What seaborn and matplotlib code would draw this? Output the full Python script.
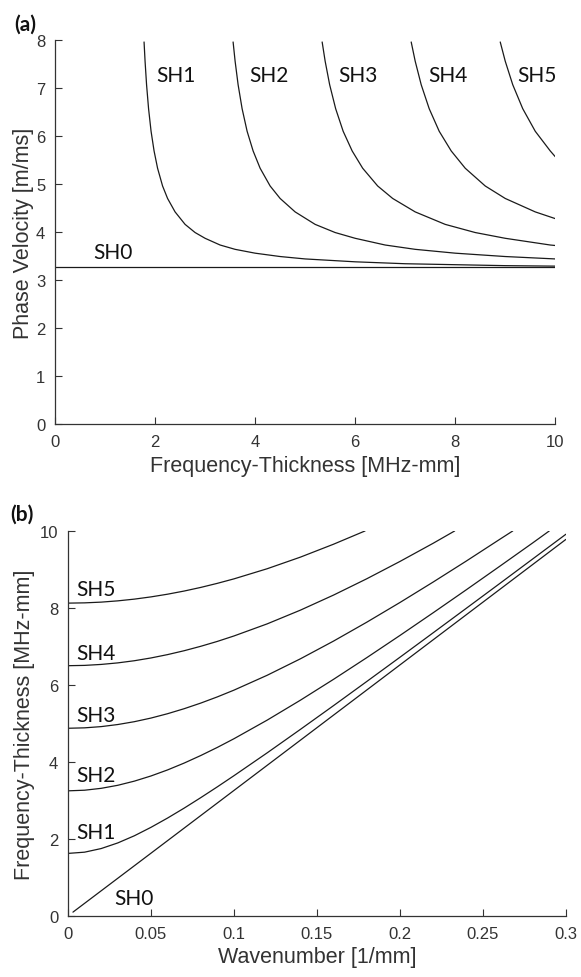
import pandas as pd
import seaborn as sns
import matplotlib.pyplot as plt

# ---- panel (a): phase velocity [m/ms] vs frequency-thickness [MHz-mm]
sh0_fd = [0.0, 2.0, 4.0, 6.0, 8.0, 10.0]
sh0_c = [3.27, 3.27, 3.27, 3.27, 3.27, 3.27]

sh1_fd = [1.78, 1.80, 1.83, 1.87, 1.92, 1.98, 2.05, 2.15, 2.25, 2.4, 2.6, 2.8,
          3.0, 3.3, 3.6, 4.0, 4.5, 5.0, 6.0, 7.0, 8.0, 9.0, 10.0]
sh1_c = [7.96, 7.56, 7.07, 6.57, 6.10, 5.69, 5.33, 4.96, 4.70, 4.42, 4.16, 3.99,
         3.87, 3.73, 3.64, 3.56, 3.49, 3.44, 3.38, 3.34, 3.32, 3.30, 3.29]

sh2_fd = [3.56, 3.60, 3.66, 3.74, 3.84, 3.96, 4.10, 4.30, 4.50, 4.80, 5.20, 5.60,
          6.00, 6.60, 7.20, 8.00, 9.00, 10.0]
sh2_c = [7.96, 7.56, 7.07, 6.57, 6.10, 5.69, 5.33, 4.96, 4.70, 4.42, 4.16, 3.99,
         3.87, 3.73, 3.64, 3.56, 3.49, 3.44]

sh3_fd = [5.34, 5.40, 5.49, 5.61, 5.76, 5.94, 6.15, 6.45, 6.75, 7.20, 7.80, 8.40,
          9.00, 9.90, 10.0]
sh3_c = [7.96, 7.56, 7.07, 6.57, 6.10, 5.69, 5.33, 4.96, 4.70, 4.42, 4.16, 3.99,
         3.87, 3.73, 3.72]

sh4_fd = [7.12, 7.20, 7.32, 7.48, 7.68, 7.92, 8.20, 8.60, 9.00, 9.60, 10.0]
sh4_c = [7.96, 7.56, 7.07, 6.57, 6.10, 5.69, 5.33, 4.96, 4.70, 4.42, 4.28]

sh5_fd = [8.90, 9.00, 9.15, 9.35, 9.60, 9.90, 10.0]
sh5_c = [7.96, 7.56, 7.07, 6.57, 6.10, 5.69, 5.57]

# ---- panel (b): frequency-thickness [MHz-mm] vs wavenumber [1/mm]
sh0_k = [0.003, 0.05, 0.1, 0.15, 0.2, 0.25, 0.3]
sh0_f = [0.10, 1.63, 3.26, 4.89, 6.52, 8.15, 9.78]

sh1_k = [0.0, 0.01, 0.02, 0.03, 0.04, 0.05, 0.06, 0.07, 0.08, 0.09, 0.10,
         0.12, 0.14, 0.16, 0.18, 0.20, 0.22, 0.24, 0.26, 0.28, 0.30]
sh1_f = [1.625, 1.657, 1.751, 1.897, 2.083, 2.302, 2.543, 2.801, 3.073, 3.354, 3.643,
         4.236, 4.845, 5.463, 6.089, 6.719, 7.354, 7.991, 8.630, 9.272, 9.914]

sh2_k = [0.0, 0.01, 0.02, 0.03, 0.04, 0.05, 0.06, 0.07, 0.08, 0.09, 0.10,
         0.12, 0.14, 0.16, 0.18, 0.20, 0.22, 0.24, 0.26, 0.28, 0.29]
sh2_f = [3.250, 3.266, 3.315, 3.394, 3.502, 3.636, 3.793, 3.971, 4.167, 4.378, 4.603,
         5.086, 5.603, 6.146, 6.708, 7.285, 7.874, 8.472, 9.078, 9.689, 10.0]

sh3_k = [0.0, 0.01, 0.02, 0.03, 0.04, 0.05, 0.06, 0.07, 0.08, 0.09, 0.10,
         0.12, 0.14, 0.16, 0.18, 0.20, 0.22, 0.24, 0.26, 0.268]
sh3_f = [4.875, 4.886, 4.918, 4.972, 5.046, 5.140, 5.253, 5.383, 5.529, 5.690, 5.865,
         6.251, 6.678, 7.139, 7.629, 8.141, 8.672, 9.218, 9.778, 10.0]

sh4_k = [0.0, 0.01, 0.02, 0.03, 0.04, 0.05, 0.06, 0.07, 0.08, 0.09, 0.10,
         0.12, 0.14, 0.16, 0.18, 0.20, 0.22, 0.233]
sh4_f = [6.500, 6.508, 6.533, 6.573, 6.629, 6.701, 6.788, 6.889, 7.004, 7.131, 7.272,
         7.586, 7.942, 8.334, 8.757, 9.207, 9.679, 10.0]

sh5_k = [0.0, 0.01, 0.02, 0.03, 0.04, 0.05, 0.06, 0.07, 0.08, 0.09, 0.10,
         0.12, 0.14, 0.16, 0.179]
sh5_f = [8.125, 8.132, 8.151, 8.184, 8.229, 8.287, 8.357, 8.439, 8.533, 8.639, 8.755,
         9.018, 9.319, 9.655, 10.0]

modes = ['SH0', 'SH1', 'SH2', 'SH3', 'SH4', 'SH5']
curves_a = [(sh0_fd, sh0_c), (sh1_fd, sh1_c), (sh2_fd, sh2_c),
            (sh3_fd, sh3_c), (sh4_fd, sh4_c), (sh5_fd, sh5_c)]
curves_b = [(sh0_k, sh0_f), (sh1_k, sh1_f), (sh2_k, sh2_f),
            (sh3_k, sh3_f), (sh4_k, sh4_f), (sh5_k, sh5_f)]

# label positions (data coords)
labels_a = {'SH0': (0.76, 3.58), 'SH1': (2.02, 7.27), 'SH2': (3.88, 7.27),
            'SH3': (5.66, 7.27), 'SH4': (7.46, 7.27), 'SH5': (9.24, 7.27)}
labels_b = {'SH0': (0.028, 0.47), 'SH1': (0.005, 2.18), 'SH2': (0.005, 3.66),
            'SH3': (0.005, 5.22), 'SH4': (0.005, 6.83), 'SH5': (0.005, 8.49)}

sns.set_style('ticks', {'xtick.direction': 'in', 'ytick.direction': 'in'})
plt.rcParams['font.family'] = ['Liberation Sans', 'DejaVu Sans']
txt = '#333333'

fig = plt.figure(figsize=(5.81, 9.78), dpi=100)
ax1 = fig.add_axes([0.0947, 0.5654, 0.861, 0.3926])
ax2 = fig.add_axes([0.117, 0.0624, 0.857, 0.3937])


def long_df(curves):
    frames = []
    for name, (x, y) in zip(modes, curves):
        frames.append(pd.DataFrame({'x': x, 'y': y, 'mode': name}))
    return pd.concat(frames, ignore_index=True)


df_a = long_df(curves_a)
df_b = long_df(curves_b)

sns.lineplot(data=df_a, x='x', y='y', units='mode', estimator=None,
             color='#1a1a1a', lw=0.9, sort=False, ax=ax1, legend=False)
sns.lineplot(data=df_b, x='x', y='y', units='mode', estimator=None,
             color='#1a1a1a', lw=0.9, sort=False, ax=ax2, legend=False)

for name, (x, y) in labels_a.items():
    ax1.text(x, y, name, family='Lato', fontsize=15, va='center', ha='left', color='#111111')
for name, (x, y) in labels_b.items():
    ax2.text(x, y, name, family='Lato', fontsize=15, va='center', ha='left', color='#111111')

ax1.set_xlim(0, 10)
ax1.set_ylim(0, 8)
ax1.set_xticks(range(0, 11, 2))
ax1.set_yticks(range(0, 9))
ax1.set_xlabel('Frequency-Thickness [MHz-mm]', fontsize=15.5, color=txt)
ax1.set_ylabel('Phase Velocity [m/ms]', fontsize=15.5, color=txt)

ax2.set_xlim(0, 0.3)
ax2.set_ylim(0, 10)
ax2.set_xticks([0, 0.05, 0.1, 0.15, 0.2, 0.25, 0.3])
ax2.set_xticklabels(['0', '0.05', '0.1', '0.15', '0.2', '0.25', '0.3'])
ax2.set_yticks(range(0, 11, 2))
ax2.set_xlabel('Wavenumber [1/mm]', fontsize=15.5, color=txt)
ax2.set_ylabel('Frequency-Thickness [MHz-mm]', fontsize=15.5, color=txt)

for ax in (ax1, ax2):
    sns.despine(ax=ax)
    ax.tick_params(direction='in', length=5, width=0.8, pad=7,
                   labelsize=12, colors=txt)
    for s in ('left', 'bottom'):
        ax.spines[s].set_color('#333333')
        ax.spines[s].set_linewidth(0.9)
    ax.xaxis.label.set_verticalalignment('center')
    ax.yaxis.label.set_verticalalignment('center')

ax1.xaxis.set_label_coords(0.5, -0.109)
ax1.yaxis.set_label_coords(-0.064, 0.5)
ax2.xaxis.set_label_coords(0.5, -0.106)
ax2.yaxis.set_label_coords(-0.088, 0.5)

fig.text(25 / 581, 1 - 25 / 978, '(a)', family='Lato', fontsize=15,
         fontweight='bold', ha='center', va='center', color='#111111')
fig.text(22 / 581, 1 - 515 / 978, '(b)', family='Lato', fontsize=15,
         fontweight='bold', ha='center', va='center', color='#111111')

fig.savefig('out.png', dpi=100)
